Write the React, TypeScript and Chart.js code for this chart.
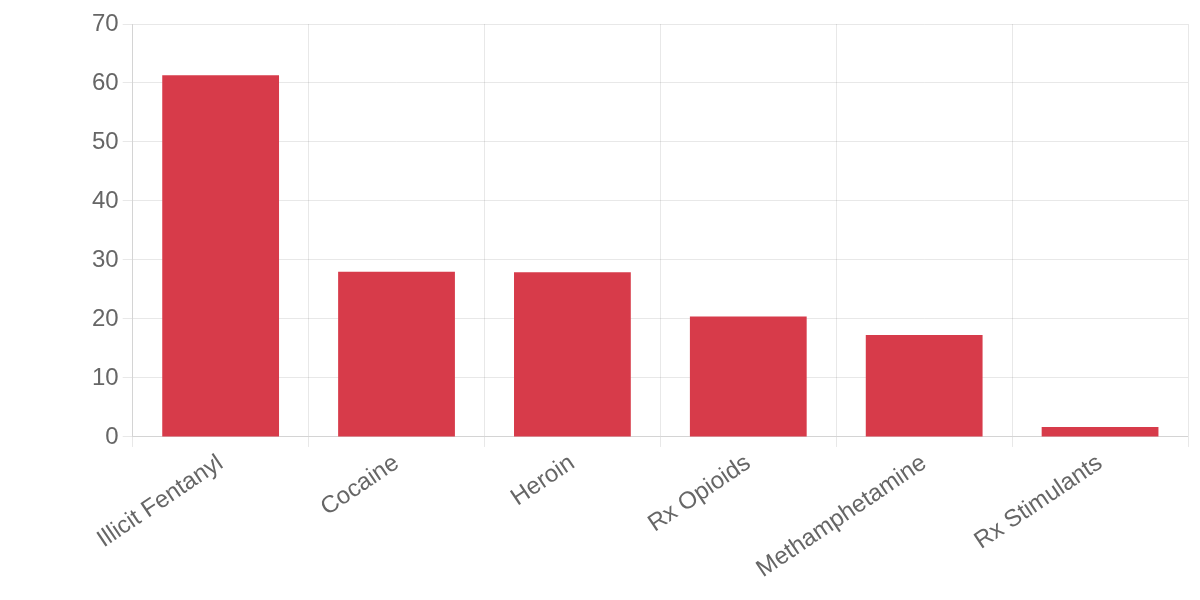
import Chart from 'chart.js/auto';
import { useEffect, useRef } from 'react';

const categories = ['Illicit Fentanyl', 'Cocaine', 'Heroin', 'Rx Opioids', 'Methamphetamine', 'Rx Stimulants'];
const values = [61.3, 28.0, 27.9, 20.4, 17.3, 1.7];
const yTicks = { min: 0, max: 70, step: 10 };

export default function App() {
  const chartRef = useRef<HTMLCanvasElement | null>(null);

  useEffect(() => {
    if (!chartRef.current) return;
    const font = { family: '"Liberation Sans", Arial, Helvetica, sans-serif', size: 24 };
    const gridColor = 'rgba(0,0,0,0.09)';
    const chart = new Chart(chartRef.current, {
      type: 'bar',
      data: {
        labels: categories,
        datasets: [
          {
            label: 'Deaths',
            data: values,
            backgroundColor: '#d73b4a',
            barPercentage: 0.83,
            categoryPercentage: 0.8,
          },
        ],
      },
      options: {
        animation: false,
        responsive: true,
        maintainAspectRatio: false,
        layout: { padding: { top: 24, right: 12, bottom: 14, left: 88 } },
        plugins: { legend: { display: false }, tooltip: { enabled: false } },
        scales: {
          x: {
            grid: { color: gridColor, tickLength: 10, offset: true },
            border: { color: gridColor },
            ticks: { color: '#666', font, minRotation: 34, maxRotation: 34, padding: 2 },
          },
          y: {
            min: yTicks.min,
            max: yTicks.max,
            grid: { color: gridColor, tickLength: 10 },
            border: { color: gridColor },
            ticks: { color: '#666', font, stepSize: yTicks.step, padding: 4 },
          },
        },
      },
    });
    return () => chart.destroy();
  }, []);

  return (
    <div style={{ position: 'absolute', left: 0, top: 0, width: 1200, height: 600, background: '#fff' }}>
      <canvas ref={chartRef}></canvas>
    </div>
  );
}
